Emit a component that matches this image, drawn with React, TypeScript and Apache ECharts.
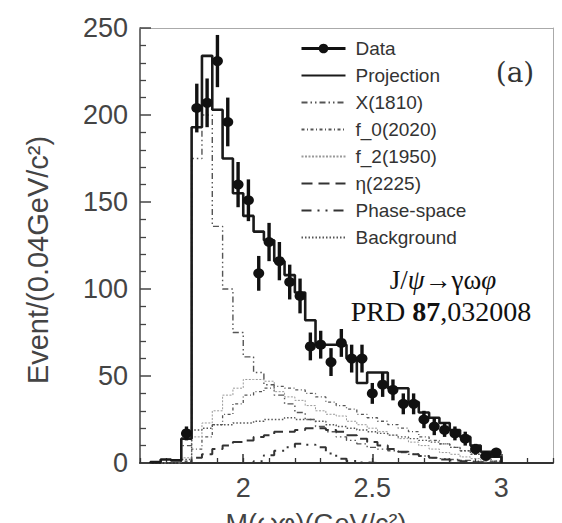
import React, { useEffect, useRef } from 'react';
import * as echarts from 'echarts';

// ---------- data ----------
const BIN_WIDTH = 0.04;
const binCenters = [
  1.66, 1.70, 1.74, 1.78, 1.82, 1.86, 1.90, 1.94, 1.98, 2.02, 2.06, 2.10, 2.14, 2.18, 2.22, 2.26, 2.30,
  2.34, 2.38, 2.42, 2.46, 2.50, 2.54, 2.58, 2.62, 2.66, 2.70, 2.74, 2.78, 2.82, 2.86, 2.90, 2.94, 2.98,
];
const dataValues = [
  null, null, null, 17, 204, 207, 231, 196, 160, 151, 109, 127, 116, 104, 96, 67, 68,
  58, 69, 60, 60, 40, 45, 42, 34, 34, 25, 21, 19, 17, 14, 8, 4, 6,
];
const dataErrors = [
  null, null, null, 4, 14, 14, 15, 14, 13, 12, 10, 11, 11, 10, 10, 8, 8,
  8, 8, 8, 8, 6, 7, 6, 6, 6, 5, 5, 4, 4, 4, 3, 2, 2.5,
];
const projection = [
  0.5, 2, 1.5, 14, 193, 234, 203, 175, 155, 142, 133, 128, 116, 108, 98, 82, 68,
  68, 68, 60, 46, 52, 52, 43, 43, 35, 29, 26, 23, 19, 15, 10, 6.5, 3.6,
];
const x1810 = [
  0, 0, 0, 10, 175, 200, 136, 100, 75, 61, 52, 45, 39, 34, 29, 25, 21,
  18, 15, 13, 11, 9, 8, 7, 6, 5, 4, 3, 2.5, 2, 1.5, 1, 0.5, 0.2,
];
const f0_2020 = [
  0, 0, 0, 1, 8, 15, 22, 28, 34, 39, 41, 43, 44, 43, 42, 40, 38,
  35, 33, 31, 28, 26, 24, 22, 20, 18, 15, 13, 11, 9, 7, 5, 3, 1,
];
const f2_1950 = [
  0, 0, 0, 3, 15, 23, 30, 39, 43, 48, 48, 47, 41, 38, 36, 33, 30,
  28, 27, 24, 22, 20, 18, 16, 14, 12, 10, 8, 6, 5, 3.5, 2.5, 1.5, 0.5,
];
const eta2225 = [
  0, 0, 0, 0, 3, 5, 8, 10, 12, 13, 15, 16, 18, 18, 19, 20, 20,
  19, 18, 16, 14, 12, 10, 8, 6.5, 5, 4, 3, 2, 1.5, 1, 0.5, 0.3, 0,
];
const phaseSpace = [
  0, 0, 0, 0, 0, 0, 0, 0, 0, 0, 1, 4.5, 7, 9, 11, 10.5, 9,
  5.5, 2.5, 1.2, 0.3, 0, 0, 0, 0, 0, 0, 0, 0, 0, 0, 0, 0, 0,
];
const background = [
  0, 0, 0, 2, 19, 20, 22, 22, 23, 23, 24, 25, 25, 26, 25, 25, 24,
  22, 21, 20, 19, 18, 17, 16, 15, 14, 13, 12, 11, 9, 7, 5, 3, 1,
];
const xTickLabels = [2, 2.5, 3];
const X_MIN = 1.6;
const X_MAX = 3.2;
const Y_MIN = 0;
const Y_MAX = 250;
const Y_INTERVAL = 50;

const SANS = '"Liberation Sans", Arial, Helvetica, sans-serif';
const SERIF = '"Liberation Serif", "Times New Roman", serif';

function stepData(values: number[]) {
  const half = BIN_WIDTH / 2;
  const pts: [number, number][] = [[+(binCenters[0] - half).toFixed(3), 0]];
  values.forEach((v, i) => pts.push([+(binCenters[i] - half).toFixed(3), v]));
  pts.push([+(binCenters[binCenters.length - 1] + half).toFixed(3), 0]);
  return pts;
}

const components = [
  { name: 'X(1810)', values: x1810, dash: [6, 3, 1.5, 3, 1.5, 3], width: 1.4, color: '#555' },
  { name: 'f_0(2020)', values: f0_2020, dash: [3, 2.5, 1, 2.5], width: 1.3, color: '#555' },
  { name: 'f_2(1950)', values: f2_1950, dash: [2, 1.5], width: 1, color: '#9a9a9a' },
  { name: 'η(2225)', values: eta2225, dash: [11, 6], width: 2, color: '#333' },
  { name: 'Phase-space', values: phaseSpace, dash: [10, 6, 2, 6, 2, 6], width: 2, color: '#333' },
  { name: 'Background', values: background, dash: [1.5, 2], width: 1.4, color: '#555' },
];

export default function App() {
  const ref = useRef<HTMLDivElement>(null);
  useEffect(() => {
    if (!ref.current) return;
    const chart = echarts.init(ref.current, undefined, { renderer: 'svg' });

    const points: [number, number][] = [];
    const errs: [number, number, number][] = [];
    binCenters.forEach((c, i) => {
      const v = dataValues[i];
      const e = dataErrors[i];
      if (v !== null && v !== undefined) {
        points.push([c, v]);
        errs.push([c, v, e as number]);
      }
    });

    const noSymbol = { itemStyle: { opacity: 0 } };

    const option: any = {
      animation: false,
      backgroundColor: '#fff',
      grid: { left: 140, right: 9, top: 28, bottom: 60 },
      xAxis: [
        {
          type: 'value', min: X_MIN, max: X_MAX, interval: 0.1,
          axisLine: { show: true, onZero: false, lineStyle: { color: '#333', width: 2 } },
          axisTick: { show: true, inside: true, length: 5, lineStyle: { color: '#333', width: 1.3 } },
          axisLabel: { customValues: xTickLabels, fontSize: 27, color: '#444', margin: 11, fontFamily: SANS },
          splitLine: { show: false },
        },
        {
          type: 'value', min: X_MIN, max: X_MAX, position: 'bottom',
          axisLine: { show: false },
          axisTick: { show: true, inside: true, length: 9, customValues: xTickLabels, lineStyle: { color: '#333', width: 1.5 } },
          axisLabel: { show: false },
          splitLine: { show: false },
        },
        {
          type: 'value', min: X_MIN, max: X_MAX, position: 'top',
          axisLine: { show: true, onZero: false, lineStyle: { color: '#aaa', width: 1 } },
          axisTick: { show: false }, axisLabel: { show: false }, splitLine: { show: false },
        },
      ],
      yAxis: [
        {
          type: 'value', min: Y_MIN, max: Y_MAX, interval: Y_INTERVAL,
          axisLine: { show: true, onZero: false, lineStyle: { color: '#444', width: 1.5 } },
          axisTick: { show: true, inside: true, length: 11, lineStyle: { color: '#444', width: 1.5 } },
          minorTick: { show: true, splitNumber: 5, length: 6, lineStyle: { color: '#444', width: 1.3 } },
          axisLabel: { fontSize: 27, color: '#444', margin: 12, fontFamily: SANS },
          splitLine: { show: false },
        },
        {
          type: 'value', min: Y_MIN, max: Y_MAX, position: 'right',
          axisLine: { show: true, onZero: false, lineStyle: { color: '#aaa', width: 1 } },
          axisTick: { show: false }, axisLabel: { show: false }, splitLine: { show: false },
        },
      ],
      legend: {
        orient: 'vertical', left: 295, top: 34, itemWidth: 44, itemHeight: 12, itemGap: 8,
        textStyle: { fontSize: 19, color: '#333', fontFamily: SANS, padding: [0, 0, 0, 5] },
        data: [
          { name: 'Data', lineStyle: { opacity: 1, width: 3, color: '#111', type: 'solid' } },
          { name: 'Projection', ...noSymbol },
          ...components.map((c) => ({ name: c.name, ...noSymbol })),
        ],
        selectedMode: false,
      },
      series: [
        ...components.map((c) => ({
          name: c.name, type: 'line', step: 'end', data: stepData(c.values), symbol: 'none',
          lineStyle: { color: c.color, width: c.width, type: c.dash }, itemStyle: { color: c.color },
          z: 2, silent: true,
        })),
        {
          name: 'Projection', type: 'line', step: 'end', data: stepData(projection), symbol: 'none',
          lineStyle: { color: '#1a1a1a', width: 2.6 }, itemStyle: { color: '#1a1a1a' }, z: 3, silent: true,
        },
        {
          name: 'errors', type: 'custom', data: errs, encode: { x: 0, y: 1 }, z: 4, silent: true,
          renderItem: (params: any, api: any) => {
            const x = api.value(0), y = api.value(1), e = api.value(2);
            const p1 = api.coord([x, y - e]);
            const p2 = api.coord([x, y + e]);
            return {
              type: 'line',
              shape: { x1: p1[0], y1: p1[1], x2: p2[0], y2: p2[1] },
              style: { stroke: '#111', lineWidth: 3.4 },
            };
          },
        },
        {
          name: 'Data', type: 'line', data: points, symbol: 'circle', symbolSize: [11, 10],
          lineStyle: { opacity: 0, width: 0 }, itemStyle: { color: '#111' }, z: 5, silent: true,
        },
      ],
      graphic: [
        { type: 'rect', shape: { x: 346, y: 257, width: 204, height: 71 }, style: { fill: '#fff' }, z: 100 },
        {
          type: 'text', z: 101,
          style: {
            x: 443, y: 280, align: 'center', verticalAlign: 'middle',
            text: '{n|J/}{i|ψ}{n|→γω}{i|φ}',
            rich: {
              n: { fontSize: 27, fontFamily: SERIF, fill: '#111' },
              i: { fontSize: 27, fontFamily: SERIF, fontStyle: 'italic', fill: '#111' },
            },
          },
        },
        {
          type: 'text', z: 101,
          style: {
            x: 441, y: 311, align: 'center', verticalAlign: 'middle',
            text: '{n|PRD }{b|87}{n|,032008}',
            rich: {
              n: { fontSize: 28, fontFamily: SERIF, fill: '#111' },
              b: { fontSize: 28, fontFamily: SERIF, fontWeight: 'bold', fill: '#111' },
            },
          },
        },
        {
          type: 'text', z: 101,
          style: { x: 515, y: 72, align: 'center', verticalAlign: 'middle', text: '(a)', font: '28px "DejaVu Serif", serif', fill: '#333' },
        },
        {
          type: 'text', z: 101, x: 38, y: 260, rotation: Math.PI / 2,
          style: { x: 0, y: 0, align: 'center', verticalAlign: 'middle', text: 'Event/(0.04GeV/c²)', font: '29px "Liberation Sans", Arial, sans-serif', fill: '#444' },
        },
        {
          type: 'text', z: 101,
          style: { x: 316, y: 524, align: 'center', verticalAlign: 'middle', text: 'M(ωφ)(GeV/c²)', font: '27px "Liberation Sans", Arial, sans-serif', fill: '#444' },
        },
      ],
    };
    chart.setOption(option);
    return () => chart.dispose();
  }, []);
  return (
    <div
      ref={ref}
      style={{ position: 'absolute', left: 0, top: 0, width: 562, height: 523, background: '#fff' }}
    />
  );
}
